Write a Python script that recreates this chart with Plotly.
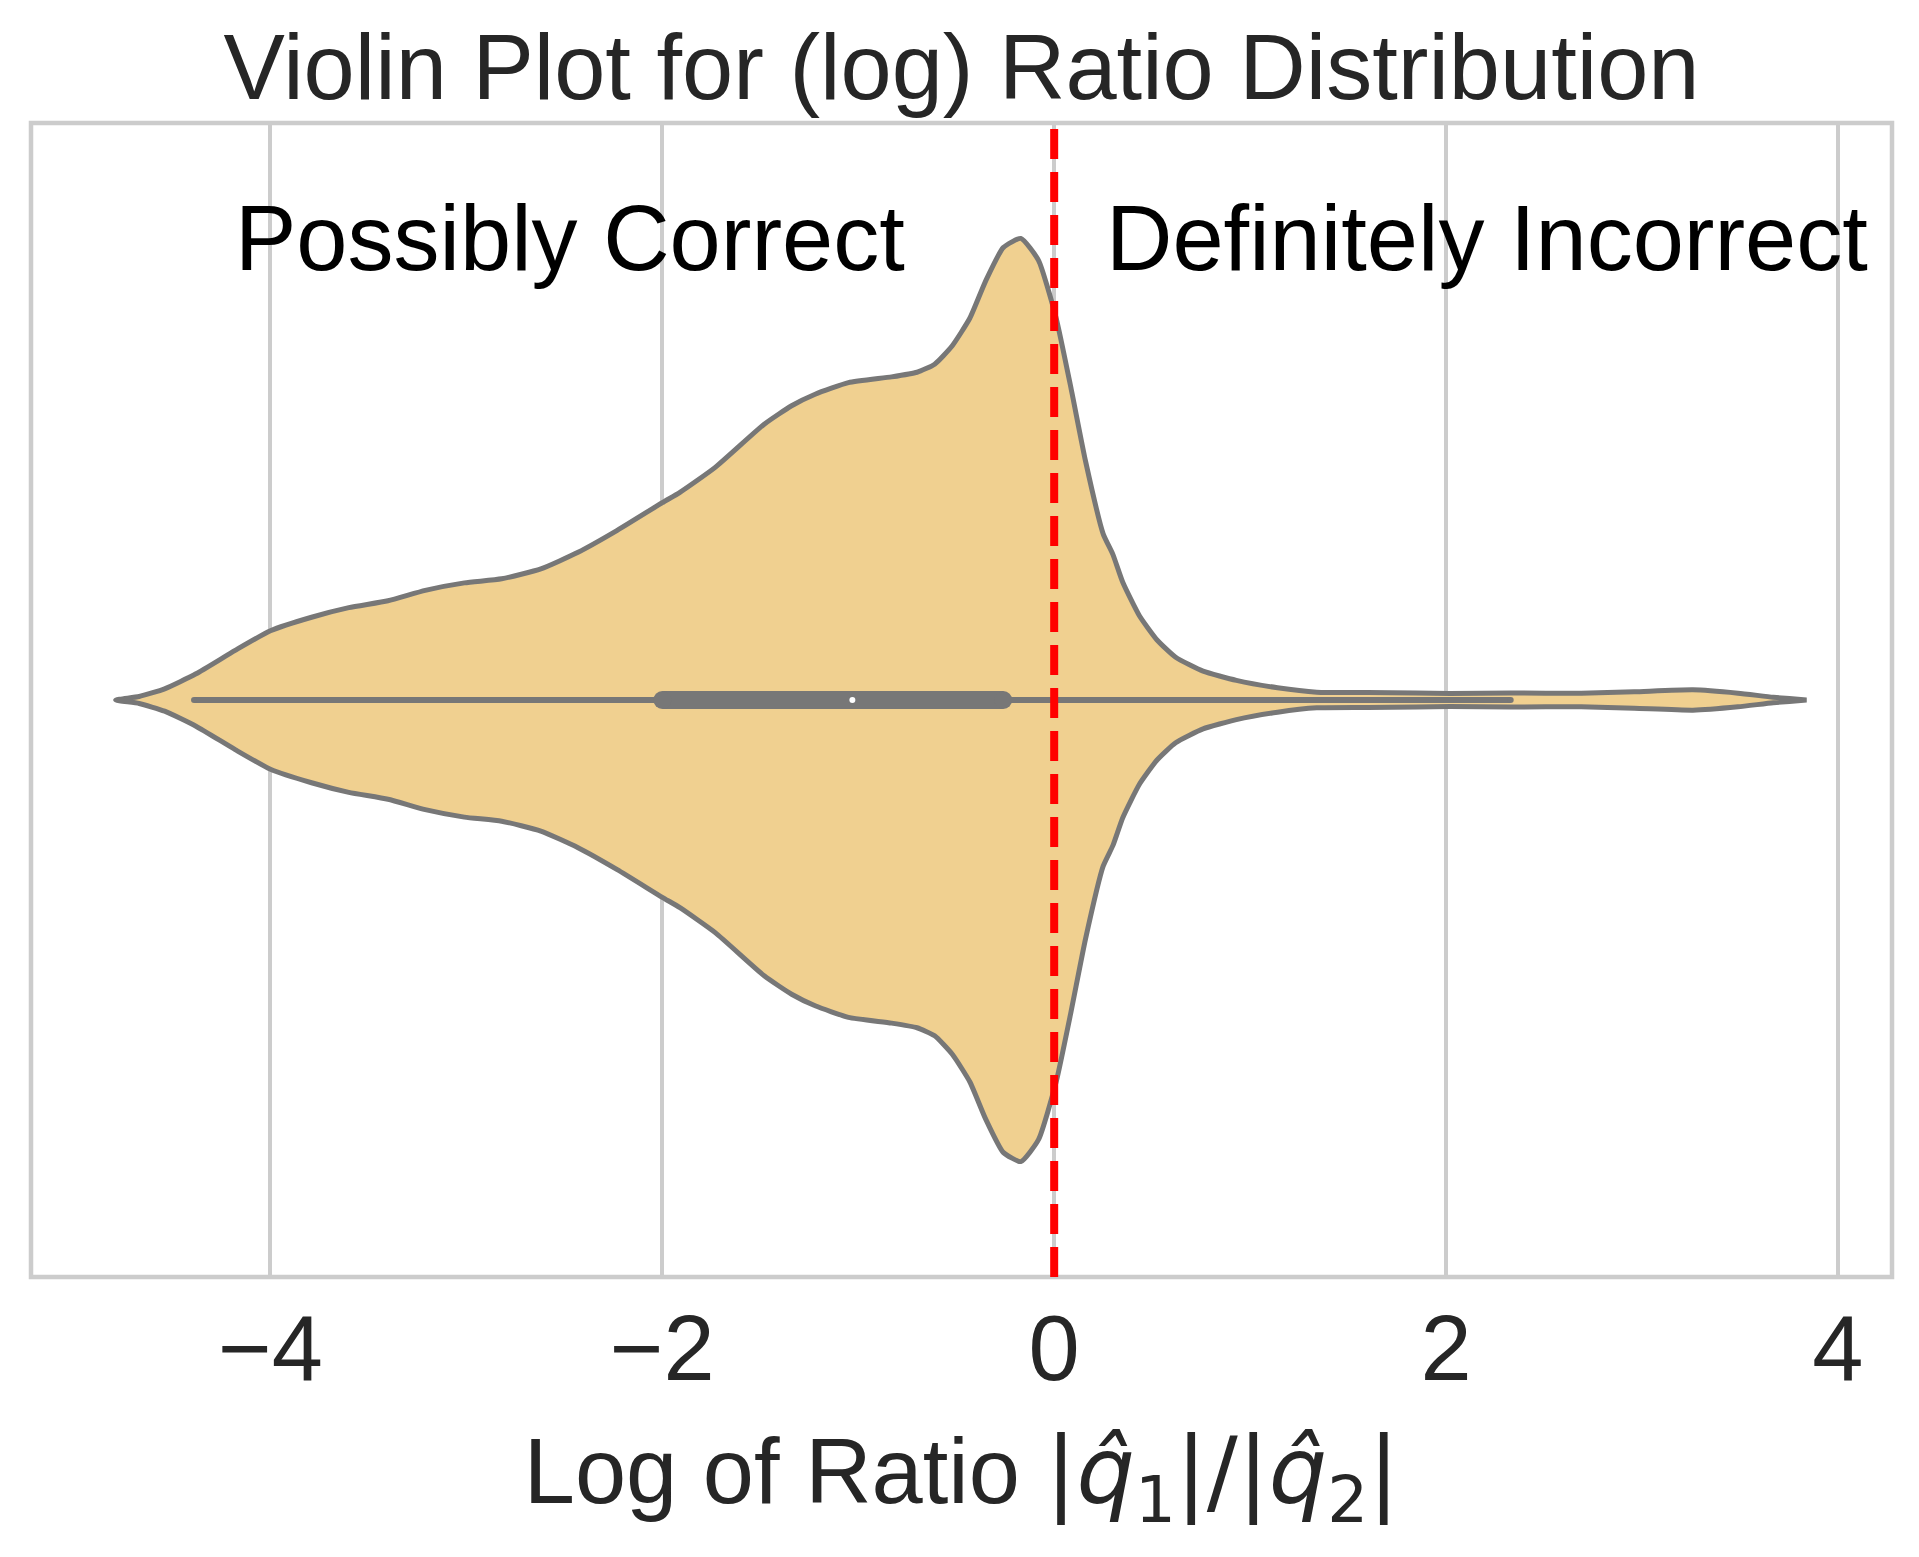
import plotly.graph_objects as go

# violin outline: x value and half width (y data units)
dens_x = [-4.79, -4.67, -4.54, -4.38, -4.18, -4.00, -3.79, -3.60, -3.40, -3.21,
          -3.01, -2.82, -2.62, -2.43, -2.23, -2.00, -1.91, -1.73, -1.48, -1.34,
          -1.22, -1.05, -0.83, -0.70, -0.61, -0.52, -0.43, -0.35, -0.26, -0.17,
          -0.08, 0.01, 0.085, 0.16, 0.25, 0.30, 0.35, 0.435, 0.525, 0.62,
          0.76, 0.93, 1.14, 1.34, 1.60, 1.85, 2.02, 2.33, 2.69, 2.96,
          3.26, 3.49, 3.67, 3.84]
dens_w = [0.0, 0.003, 0.0097, 0.0227, 0.043, 0.060, 0.0717, 0.080, 0.086, 0.095,
          0.1015, 0.105, 0.1136, 0.128, 0.147, 0.171, 0.180, 0.2016, 0.239, 0.255,
          0.265, 0.275, 0.280, 0.284, 0.291, 0.307, 0.331, 0.363, 0.392, 0.400,
          0.381, 0.331, 0.271, 0.207, 0.144, 0.126, 0.102, 0.073, 0.052, 0.037,
          0.025, 0.017, 0.0106, 0.0068, 0.0065, 0.006, 0.0056, 0.006, 0.0059, 0.0071,
          0.0088, 0.0059, 0.0024, 0.0]

# box summary
whisker_lo, whisker_hi = -4.39, 2.33
q1, q3 = -2.0, -0.26
median = -1.03

x_ticks = [-4, -2, 0, 2, 4]
x_labels = ["\u22124", "\u22122", "0", "2", "4"]

fill_col = "#f0d090"
edge_col = "#777777"
font_main = "Liberation Sans, Arial, sans-serif"

fig = go.Figure()

# violin body: upper edge left to right, lower edge back
poly_x = dens_x + dens_x[::-1]
poly_y = dens_w + [-w for w in dens_w[::-1]]
fig.add_trace(go.Scatter(
    x=poly_x, y=poly_y, mode="lines", fill="toself",
    fillcolor=fill_col,
    line=dict(color=edge_col, width=5, shape="spline", smoothing=0.5),
    hoverinfo="skip", showlegend=False
))

# whisker line (markers at the ends give round caps)
fig.add_trace(go.Scatter(
    x=[whisker_lo, whisker_hi], y=[0, 0], mode="lines+markers",
    line=dict(color=edge_col, width=6),
    marker=dict(color=edge_col, size=6),
    showlegend=False
))

# inter-quartile box
fig.add_trace(go.Scatter(
    x=[q1, q3], y=[0, 0], mode="lines+markers",
    line=dict(color=edge_col, width=18),
    marker=dict(color=edge_col, size=18),
    showlegend=False
))

# median dot
fig.add_trace(go.Scatter(
    x=[median], y=[0], mode="markers",
    marker=dict(color="white", size=6),
    showlegend=False
))

# red dashed threshold at 0
fig.add_shape(type="line", xref="x", yref="paper", x0=0, x1=0, y0=0, y1=1,
              line=dict(color="red", width=8, dash="30px,13px"), layer="above")

# light grey frame round the axes
fig.add_shape(type="rect", xref="paper", yref="paper", x0=0, x1=1, y0=0, y1=1,
              line=dict(color="#cccccc", width=4.5), layer="below")

fig.add_annotation(x=-2.47, y=0.40, text="Possibly Correct", showarrow=False,
                   font=dict(family=font_main, size=92, color="black"),
                   xanchor="center", yanchor="middle")
fig.add_annotation(x=2.21, y=0.40, text="Definitely Incorrect", showarrow=False,
                   font=dict(family=font_main, size=92, color="black"),
                   xanchor="center", yanchor="middle")

xlabel = ('Log of Ratio <span style="font-family:DejaVu Sans">'
          '|<i>q\u0302</i><sub>1</sub>|/|<i>q\u0302</i><sub>2</sub>|</span>')

fig.update_layout(
    width=1919, height=1557,
    margin=dict(l=30.5, r=27, t=122.5, b=280, pad=0),
    plot_bgcolor="white", paper_bgcolor="white",
    font=dict(family=font_main, size=92, color="#262626"),
    title=dict(text="Violin Plot for (log) Ratio Distribution",
               x=0.5, xref="paper", xanchor="center",
               y=1, yref="paper", yanchor="bottom", pad=dict(b=24),
               font=dict(size=92, color="#262626")),
    xaxis=dict(range=[-5.222, 4.276], tickvals=x_ticks, ticktext=x_labels,
               showgrid=True, gridcolor="#cccccc", gridwidth=3.5,
               zeroline=False, showline=False, ticks="",
               ticklabelstandoff=10,
               tickfont=dict(size=92, color="#262626"),
               title=dict(text=xlabel, font=dict(size=92, color="#262626"),
                          standoff=40)),
    yaxis=dict(range=[-0.5, 0.5], showgrid=False, zeroline=False,
               showticklabels=False, ticks="", showline=False),
)

fig.write_html("out.html", config={"displayModeBar": False},
               post_script="document.body.style.margin='0px';")
